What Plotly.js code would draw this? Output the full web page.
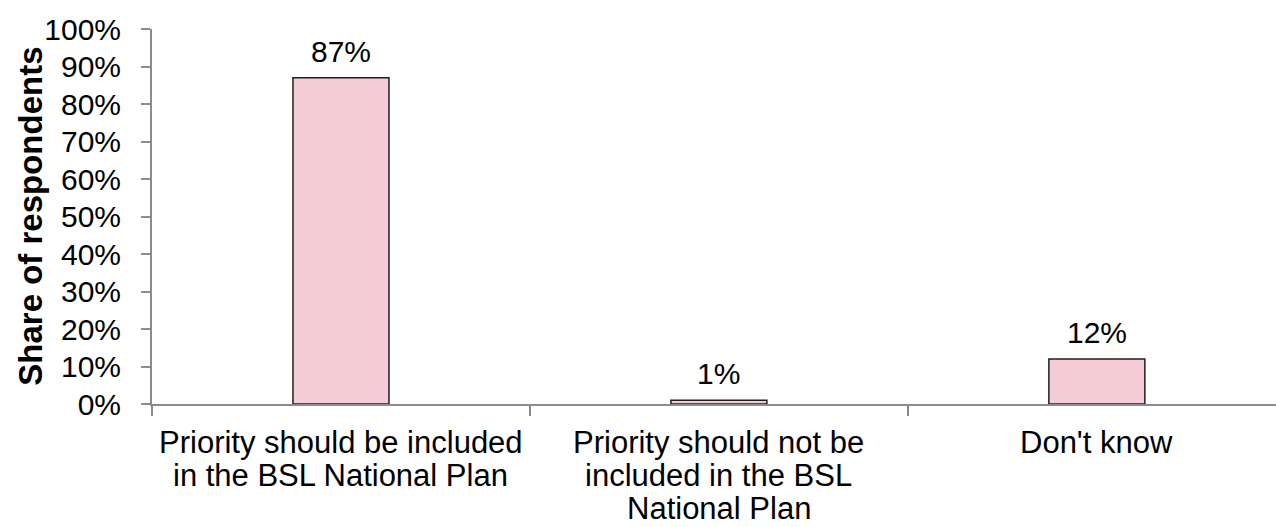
<!DOCTYPE html>
<html>
<head>
<meta charset="utf-8">
<script src="https://cdn.plot.ly/plotly-3.0.1.min.js"></script>
<style>html,body{margin:0;padding:0;background:#fff;}#chart{width:1276px;height:527px;}</style>
</head>
<body>
<div id="chart"></div>
<script>
const categories = ["Priority should be included in the BSL National Plan", "Priority should not be included in the BSL National Plan", "Don't know"];
const categoryLines = [["Priority should be included", "in the BSL National Plan"], ["Priority should not be", "included in the BSL", "National Plan"], ["Don't know"]];
const shares = [0.87, 0.01, 0.12];
const valueLabels = ["87%", "1%", "12%"];
const yTitle = "Share of respondents";

const FONT = "Liberation Sans, Arial, sans-serif";
const trace = {
  type: "bar",
  x: categories,
  y: shares,
  width: 0.254,
  marker: {color: "#F5CBD5", line: {color: "#1f1f1f", width: 1.5}},
  hoverinfo: "skip"
};

const annotations = [];
categoryLines.forEach((lines, i) => {
  lines.forEach((ln, j) => {
    annotations.push({
      x: categories[i], y: 0, xref: "x", yref: "y",
      text: ln, showarrow: false,
      xanchor: "center", yanchor: "top",
      yshift: -19 - j * 33,
      font: {family: FONT, size: 31, color: "#000"}
    });
  });
});
shares.forEach((v, i) => {
  annotations.push({
    x: categories[i], y: v, xref: "x", yref: "y",
    text: valueLabels[i], showarrow: false,
    xanchor: "center", yanchor: "bottom",
    yshift: 8,
    font: {family: FONT, size: 30, color: "#000"}
  });
});
annotations.push({
  x: -0.108, y: 0.501, xref: "paper", yref: "paper",
  text: "<b>" + yTitle + "</b>", textangle: -90, showarrow: false,
  xanchor: "center", yanchor: "middle",
  font: {family: FONT, size: 33, color: "#000"}
});

const layout = {
  width: 1276, height: 527,
  margin: {l: 152, r: 0, t: 29, b: 123, pad: 0},
  paper_bgcolor: "#fff", plot_bgcolor: "#fff",
  showlegend: false,
  bargap: 0,
  xaxis: {
    type: "category",
    range: [-0.5, 2.474],
    tickson: "boundaries",
    ticks: "outside", ticklen: 10, tickwidth: 2, tickcolor: "#8c8c8c",
    showticklabels: false,
    showline: true, linecolor: "#8c8c8c", linewidth: 2,
    showgrid: false, zeroline: false, fixedrange: true
  },
  yaxis: {
    range: [0, 1],
    dtick: 0.1, tick0: 0,
    tickformat: ".0%",
    ticks: "outside", ticklen: 9, tickwidth: 2, tickcolor: "#8c8c8c",
    showline: true, linecolor: "#8c8c8c", linewidth: 2,
    showgrid: false, zeroline: false,
    ticklabelstandoff: 14,
    tickfont: {family: FONT, size: 30, color: "#000"},
    fixedrange: true
  },
  annotations: annotations
};

Plotly.newPlot("chart", [trace], layout, {displayModeBar: false, staticPlot: true});
</script>
</body>
</html>
